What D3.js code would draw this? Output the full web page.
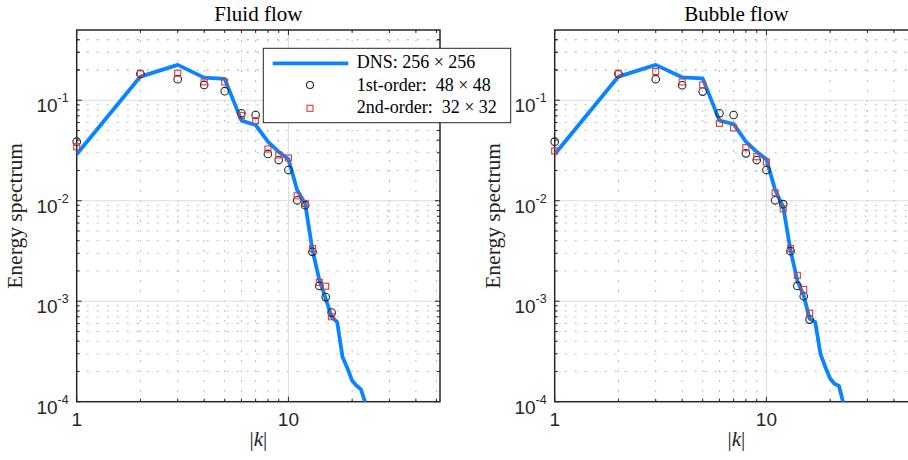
<!DOCTYPE html>
<html>
<head>
<meta charset="utf-8">
<script src="https://cdn.jsdelivr.net/npm/d3@7"></script>
<style>
  html, body { margin: 0; padding: 0; background: #fff; }
  svg { display: block; }
</style>
</head>
<body>
<svg id="chart" width="908" height="460"></svg>
<script>
// Wavenumbers
const kDNS = [1, 2, 3, 4, 5, 6, 7, 8, 9, 10, 11, 12, 13, 14, 15, 16, 17, 18, 19, 20, 21, 22, 23, 24];
const kCoarse = [1, 2, 3, 4, 5, 6, 7, 8, 9, 10, 11, 12, 13, 14, 15, 16];

// Fluid flow spectra
const fluidDNS = [0.029, 0.172, 0.225, 0.168, 0.163, 0.0627, 0.0567, 0.0387, 0.0307, 0.0258, 0.0128, 0.0093,
  0.0032, 0.00163, 0.00106, 0.0007, 0.00062, 0.00028, 0.000215, 0.000162, 0.000144, 0.000133, 0.0001, 0.00005];
const fluidFirst = [0.0387, 0.183, 0.162, 0.142, 0.123, 0.0741, 0.0713, 0.0292, 0.0254, 0.0202, 0.0101, 0.00903,
  0.0031, 0.00142, 0.0011, 0.00077];
const fluidSecond = [0.0345, 0.183, 0.186, 0.152, 0.152, 0.0703, 0.0627, 0.0327, 0.0285, 0.0266, 0.0112, 0.0094,
  0.00334, 0.00154, 0.00141, 0.0007];

// Bubble flow spectra
const bubbleDNS = [0.029, 0.172, 0.225, 0.169, 0.165, 0.0627, 0.058, 0.0387, 0.0307, 0.0258, 0.0128, 0.0087,
  0.0032, 0.0016, 0.00114, 0.00067, 0.00062, 0.0003, 0.00022, 0.00017, 0.00015, 0.000144, 0.0001, 0.00005];
const bubbleFirst = [0.0387, 0.183, 0.162, 0.141, 0.122, 0.0741, 0.0713, 0.0296, 0.0254, 0.0202, 0.0101, 0.00925,
  0.00315, 0.00142, 0.00112, 0.000656];
const bubbleSecond = [0.0313, 0.183, 0.193, 0.152, 0.142, 0.0589, 0.053, 0.0337, 0.0274, 0.0243, 0.012, 0.0083,
  0.00334, 0.00181, 0.00131, 0.00076];

// Axis ticks
const xMajorTicks = [1, 10];
const xMinorTicks = [2, 3, 4, 5, 6, 7, 8, 9, 20, 30, 40, 50];
const yTickExponents = [-4, -3, -2, -1];
const yMinorTicks = [];
[-4, -3, -2, -1].forEach(e => { for (let m = 2; m <= 9; m++) { const v = m * Math.pow(10, e); if (v < 0.5) yMinorTicks.push(+v.toPrecision(3)); } });
yMinorTicks.push(0.2, 0.3, 0.4);

const legendLabels = ["DNS: 256 \u00d7 256", "1st-order:  48 \u00d7 48", "2nd-order:  32 \u00d7 32"];
const titles = ["Fluid flow", "Bubble flow"];

const COLORS = { dns: "#0a84ff", first: "#262626", second: "#d93a3a", axis: "#262626" };
const SERIF = "'Liberation Serif', 'Times New Roman', serif";
const SANS = "'Liberation Sans', Arial, Helvetica, sans-serif";

const svg = d3.select("#chart");
const W = 363.3, H = 371.7, TOP = 30;
const panels = [
  { left: 76.7, title: titles[0], dns: fluidDNS, first: fluidFirst, second: fluidSecond },
  { left: 554.7, title: titles[1], dns: bubbleDNS, first: bubbleFirst, second: bubbleSecond }
];

panels.forEach((p, i) => {
  const x = d3.scaleLog().domain([1, 52]).range([0, W]);
  const y = d3.scaleLog().domain([1e-4, 0.5]).range([H, 0]);
  const g = svg.append("g").attr("transform", `translate(${p.left},${TOP})`);

  g.append("defs").append("clipPath").attr("id", "clip" + i)
    .append("rect").attr("width", W).attr("height", H);

  // minor grid
  const grid = g.append("g");
  grid.selectAll(".gxm").data(xMinorTicks).join("line")
    .attr("x1", d => x(d)).attr("x2", d => x(d)).attr("y1", 0).attr("y2", H)
    .attr("stroke", "#bdbdbd").attr("stroke-width", 1).attr("stroke-dasharray", "2,8");
  grid.selectAll(".gym").data(yMinorTicks).join("line")
    .attr("y1", d => y(d)).attr("y2", d => y(d)).attr("x1", 0).attr("x2", W)
    .attr("stroke", "#bdbdbd").attr("stroke-width", 1).attr("stroke-dasharray", "2,8");
  // major grid
  grid.selectAll(".gxM").data([10]).join("line")
    .attr("x1", d => x(d)).attr("x2", d => x(d)).attr("y1", 0).attr("y2", H)
    .attr("stroke", "#dcdcdc").attr("stroke-width", 1);
  grid.selectAll(".gyM").data([1e-3, 1e-2, 1e-1]).join("line")
    .attr("y1", d => y(d)).attr("y2", d => y(d)).attr("x1", 0).attr("x2", W)
    .attr("stroke", "#dcdcdc").attr("stroke-width", 1);

  // axes with ticks on all four sides
  const ax = g.append("g").attr("stroke", COLORS.axis).attr("stroke-width", 1);
  const xt = xMajorTicks.map(v => ({ v, len: 5 })).concat(xMinorTicks.map(v => ({ v, len: 3 })));
  const yt = yTickExponents.map(e => ({ v: Math.pow(10, e), len: 5 })).concat(yMinorTicks.map(v => ({ v, len: 3 })));
  ax.selectAll(".tb").data(xt).join("line")
    .attr("x1", d => x(d.v)).attr("x2", d => x(d.v)).attr("y1", H).attr("y2", d => H - d.len);
  ax.selectAll(".tt").data(xt).join("line")
    .attr("x1", d => x(d.v)).attr("x2", d => x(d.v)).attr("y1", 0).attr("y2", d => d.len);
  ax.selectAll(".tl").data(yt).join("line")
    .attr("y1", d => y(d.v)).attr("y2", d => y(d.v)).attr("x1", 0).attr("x2", d => d.len);
  ax.selectAll(".tr").data(yt).join("line")
    .attr("y1", d => y(d.v)).attr("y2", d => y(d.v)).attr("x1", W).attr("x2", d => W - d.len);
  g.append("rect").attr("width", W).attr("height", H)
    .attr("fill", "none").attr("stroke", COLORS.axis).attr("stroke-width", 1.5);

  // tick labels
  g.selectAll(".xl").data(xMajorTicks).join("text")
    .attr("x", d => x(d)).attr("y", H + 24.5)
    .attr("text-anchor", "middle").attr("font-family", SANS).attr("font-size", 19)
    .attr("fill", COLORS.axis).text(d => d);
  const yl = g.selectAll(".yl").data(yTickExponents).join("text")
    .attr("x", -8).attr("y", d => y(Math.pow(10, d)) + 12)
    .attr("text-anchor", "end").attr("font-family", SANS).attr("font-size", 19)
    .attr("fill", COLORS.axis);
  yl.append("tspan").text("10");
  yl.append("tspan").attr("dy", -10).attr("font-size", 12.5).text(d => d);

  // axis titles
  g.append("text").attr("x", W / 2).attr("y", -9.3)
    .attr("text-anchor", "middle").attr("font-family", SERIF).attr("font-size", 21)
    .attr("fill", "#000").text(p.title);
  const xlab = g.append("text").attr("x", W / 2).attr("y", H + 44)
    .attr("text-anchor", "middle").attr("font-family", SERIF).attr("font-size", 21).attr("fill", "#222");
  xlab.append("tspan").text("|");
  xlab.append("tspan").attr("font-style", "italic").text("k");
  xlab.append("tspan").text("|");
  g.append("text")
    .attr("transform", `translate(${-54.5},${H / 2}) rotate(-90)`)
    .attr("text-anchor", "middle").attr("font-family", SERIF).attr("font-size", 21.5)
    .attr("fill", "#222").text("Energy spectrum");

  // data: the DNS curve is clipped to the axes, markers are not
  const plot = g.append("g").attr("clip-path", `url(#clip${i})`);
  const line = d3.line().x((d, j) => x(kDNS[j])).y(d => y(d));
  plot.append("path").datum(p.dns).attr("d", line)
    .attr("fill", "none").attr("stroke", COLORS.dns).attr("stroke-width", 3.8)
    .attr("stroke-linejoin", "round");
  const marks = g.append("g");
  marks.selectAll(".c1").data(p.first).join("circle")
    .attr("cx", (d, j) => x(kCoarse[j])).attr("cy", d => y(d)).attr("r", 3.8)
    .attr("fill", "none").attr("stroke", COLORS.first).attr("stroke-width", 1.1);
  marks.selectAll(".s2").data(p.second).join("rect")
    .attr("x", (d, j) => x(kCoarse[j]) - 3).attr("y", d => y(d) - 3)
    .attr("width", 6).attr("height", 6)
    .attr("fill", "none").attr("stroke", COLORS.second).attr("stroke-width", 1.1);
});

// legend of the first panel, drawn over everything
const lg = svg.append("g").attr("transform", "translate(263.3,48.3)");
lg.append("rect").attr("width", 247.4).attr("height", 74.4)
  .attr("fill", "#fff").attr("stroke", COLORS.axis).attr("stroke-width", 1);
lg.append("line").attr("x1", 9.4).attr("x2", 85).attr("y1", 15).attr("y2", 15)
  .attr("stroke", COLORS.dns).attr("stroke-width", 3.8);
lg.append("circle").attr("cx", 46.7).attr("cy", 36.7).attr("r", 3.5)
  .attr("fill", "none").attr("stroke", COLORS.first).attr("stroke-width", 1.1);
lg.append("rect").attr("x", 43.7).attr("y", 57).attr("width", 6).attr("height", 6)
  .attr("fill", "none").attr("stroke", COLORS.second).attr("stroke-width", 1.1);
lg.selectAll(".lt").data(legendLabels).join("text")
  .attr("x", 93.4).attr("y", (d, j) => 19.7 + j * 22.6)
  .attr("font-family", SERIF).attr("font-size", 18).attr("fill", "#000")
  .attr("xml:space", "preserve").style("white-space", "pre")
  .text(d => d);
</script>
</body>
</html>
